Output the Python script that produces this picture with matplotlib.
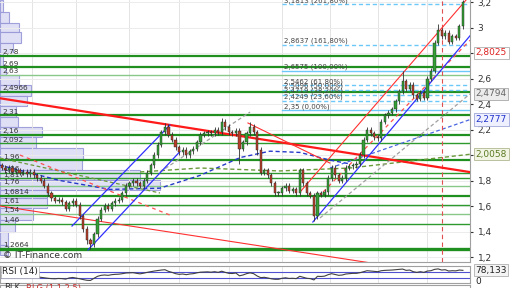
import numpy as np
import matplotlib
matplotlib.use("Agg")
import matplotlib.pyplot as plt

# --- price data (one candle per session) ---
closes = [
    1.90, 1.88, 1.90, 1.87, 1.88, 1.86, 1.87, 1.85, 1.87, 1.84,
    1.82, 1.80, 1.76, 1.70, 1.66, 1.64, 1.65, 1.63, 1.58, 1.62,
    1.64, 1.61, 1.52, 1.42, 1.33, 1.30, 1.38, 1.50, 1.57, 1.60,
    1.58, 1.62, 1.64, 1.65, 1.70, 1.76, 1.78, 1.80, 1.78, 1.76,
    1.80, 1.86, 1.92, 2.00, 2.08, 2.18, 2.22, 2.16, 2.12, 2.06,
    2.02, 2.04, 2.00, 2.03, 2.05, 2.10, 2.16, 2.17, 2.18, 2.17,
    2.20, 2.18, 2.26, 2.22, 2.18, 2.17, 2.19, 2.05, 2.10, 2.17,
    2.22, 2.18, 2.04, 1.86, 1.88, 1.84, 1.78, 1.70, 1.70, 1.74,
    1.76, 1.72, 1.73, 1.70, 1.88, 1.78, 1.70, 1.68, 1.52, 1.70,
    1.69, 1.71, 1.82, 1.90, 1.84, 1.80, 1.82, 1.90, 1.91, 1.92,
    1.93, 2.00, 2.12, 2.20, 2.17, 2.14, 2.13, 2.26, 2.31, 2.33,
    2.36, 2.42, 2.50, 2.58, 2.52, 2.55, 2.47, 2.44, 2.49, 2.45,
    2.60, 2.66, 2.88, 2.98, 2.93, 2.96, 2.89, 2.93, 2.92, 3.01,
    3.20,
]
first_open = 1.92
high_spikes = {46: 2.25, 62: 2.29, 70: 2.26, 113: 2.66, 123: 3.03, 130: 3.215}
low_spikes = {24: 1.30, 25: 1.2664, 67: 1.93, 72: 2.00, 88: 1.48}

rsi = [
    45, 44, 46, 42, 44, 42, 43, 40, 43, 40,
    38, 36, 33, 30, 28, 27, 29, 28, 25, 32,
    35, 31, 27, 22, 18, 17, 30, 42, 48, 50,
    48, 52, 54, 55, 58, 62, 63, 64, 60, 57,
    61, 66, 70, 74, 77, 80, 82, 72, 66, 58,
    54, 56, 52, 56, 58, 63, 67, 68, 69, 67,
    70, 66, 73, 66, 60, 59, 62, 45, 50, 58,
    63, 58, 44, 34, 36, 32, 27, 24, 24, 30,
    33, 29, 30, 28, 42, 36, 30, 28, 20, 42,
    41, 43, 52, 58, 53, 48, 50, 56, 58, 60,
    60, 64, 70, 76, 74, 72, 70, 76, 78, 79,
    80, 82, 84, 86, 78, 80, 70, 66, 70, 66,
    74, 76, 84, 87, 80, 82, 74, 76, 75, 80,
    78.133,
]

# support / resistance levels (left labels)
levels = [2.78, 2.69, 2.63, 2.4966, 2.31, 2.16, 2.092, 1.96, 1.86, 1.817,
          1.76, 1.6814, 1.61, 1.54, 1.46, 1.2664]
level_labels = ['2,78', '2,69', '2,63', '2,4966', '2,31', '2,16', '2,092', '1,96',
                '1,86', '1,817', '1,76', '1,6814', '1,61', '1,54', '1,46', '1,2664']
level_kind = ['thick', 'thick', 'light', 'thick', 'thick', 'thick', 'mid', 'thick',
              'mid', 'mid', 'light', 'thick', 'mid', 'light', 'mid', 'heavy']

# volume-by-price profile
vp_edges = [3.216, 3.122, 3.035, 2.965, 2.878, 2.80, 2.698, 2.627, 2.549, 2.463,
            2.384, 2.298, 2.220, 2.141, 2.055, 1.961, 1.882, 1.804, 1.725, 1.663,
            1.584, 1.490, 1.396, 1.294, 1.216]
vp_volume = [3, 9, 19, 21, 13, 3, 6, 19, 31, 27, 16, 18, 42, 36, 83, 82, 140, 160,
             47, 47, 33, 15, 8, 8]

# fibonacci projection
fib_values = [3.1813, 2.8637, 2.6575, 2.5462, 2.5096, 2.4719, 2.4249, 2.35]
fib_labels = ['3,1813 (261,80%)', '2,8637 (161,80%)', '2,6575 (100,00%)',
              '2,5462 (61,80%)', '2,5096 (50,00%)', '2,4719 (38,20%)',
              '2,4249 (23,60%)', '2,35 (0,00%)']
fib_solid = [False, False, True, False, False, False, False, True]
fib_start = 79

# drawn trend lines (candle index, price)
red_main = ([-0.5, 132], [2.445, 1.866])
red_low = ([-0.5, 106], [1.60, 1.145])
red_peak = ([69.4, 92.5], [2.251, 1.937])
red_channel = ([84.1, 130.9], [1.71, 3.216])
blue_right = ([87.7, 132], [1.4745, 2.935])
blue_left_up = ([19.8, 47.4], [1.443, 2.235])
blue_left_low = ([24.3, 50.2], [1.255, 2.026])

blue_ma = ([-0.5, 16.4, 30.5, 44.6, 55.9, 67.2, 75.6, 84.1, 92.5, 98.2],
           [1.92, 1.80, 1.73, 1.74, 1.84, 1.98, 2.03, 2.02, 1.96, 1.93])
blue_ma2 = ([92.5, 132], [1.898, 2.2777])
green_dash = ([-0.5, 44.6], [1.976, 1.702])
green_ma = ([39, 55.9, 78.4, 98.2, 117.9, 132],
            [1.867, 1.898, 1.875, 1.898, 1.961, 2.0058])
gray_right = ([89.7, 132], [1.506, 2.4794])
gray_left = ([44.6, 70], [1.867, 2.337])
red_dash_left = ([5.1, 47.4], [2.0, 1.529])
red_dash_right = ([90.6, 132], [1.71, 2.90])
marker_day = 124.1

month_idx = [8.5, 21, 36, 50, 64, 79, 92.5, 106, 120]
price_ticks = [1.2, 1.4, 1.6, 1.8, 2.0, 2.2, 2.4, 2.6, 2.8, 3.0, 3.2]
hidden_ticks = [2.0, 2.8]   # covered by the value boxes

# right-side value boxes: value, text colour, face, edge
boxes = [(2.8025, '#dd2222', '#ffffff', '#b0b0b0'),
         (2.4794, '#666666', '#ececec', '#a8a8a8'),
         (2.2777, '#2233cc', '#eef0ff', '#a0a8d8'),
         (2.0058, '#5a7a22', '#f2f5e4', '#b0b890')]

W = 470 / 512
main_rect = [0, 26 / 288, W, 262 / 288]
ylo, yhi = 1.1608, 3.2157

fig = plt.figure(figsize=(5.12, 2.88), dpi=100)
fig.patch.set_facecolor('white')

# volume profile lives underneath the price axes
vol_ax = fig.add_axes(main_rect)
edges = np.array(vp_edges)
vol_ax.barh((edges[:-1] + edges[1:]) / 2, vp_volume, height=edges[:-1] - edges[1:],
            left=0, color='#dcdcf6', edgecolor='#9898d8', lw=0.8, alpha=0.9)
vol_ax.set_xlim(0, 470)
vol_ax.set_ylim(ylo, yhi)
vol_ax.axis('off')

ax = fig.add_axes(main_rect)
ax.patch.set_visible(False)
ax.set_xlim(-0.5, 132)
ax.set_ylim(ylo, yhi)

for m in month_idx:
    ax.axvline(m, color='#e4e4e4', lw=0.7, zorder=0)
for p in price_ticks:
    ax.axhline(p, color='#ececec', lw=0.7, zorder=0)

styles = {'heavy': ('#1f8f1f', 2.4), 'thick': ('#1f8f1f', 1.6),
          'mid': ('#2e9a2e', 1.0), 'light': ('#88c888', 1.0)}
ylab = ax.get_yaxis_transform()
for lv, lab, kind in zip(levels, level_labels, level_kind):
    c, w = styles[kind]
    ax.axhline(lv, color=c, lw=w, zorder=2)
    ax.text(0.006, lv + 0.004, lab, transform=ylab, fontsize=5.3, color='#333333',
            va='bottom', ha='left', zorder=6)

for v, lab, solid in zip(fib_values, fib_labels, fib_solid):
    ax.plot([fib_start, 132], [v, v], color='#6cc8f8', lw=1.0,
            ls='-' if solid else (0, (3, 2)), zorder=2)
    ax.text(fib_start + 0.5, v + 0.006, lab, fontsize=5, color='#444444',
            va='bottom', ha='left', zorder=6, clip_on=True)

# dashed averages and channel guides
ax.plot(*blue_ma, color='#2638c8', lw=1.0, ls=(0, (3, 2)), zorder=3)
ax.plot(*blue_ma2, color='#4a66e0', lw=0.9, ls=(0, (3, 2)), zorder=3)
ax.plot(*green_dash, color='#6a9a3a', lw=0.9, ls=(0, (3, 2)), zorder=3)
ax.plot(*green_ma, color='#6a9a3a', lw=1.0, ls=(0, (3, 2)), zorder=3)
ax.plot(*gray_right, color='#a0a0a0', lw=0.9, ls=(0, (3, 2)), zorder=3)
ax.plot(*gray_left, color='#a0a0a0', lw=0.9, ls=(0, (3, 2)), zorder=3)
ax.plot(*red_dash_left, color='#ff5050', lw=0.9, ls=(0, (3, 3)), zorder=3)
ax.plot(*red_dash_right, color='#ff5050', lw=0.9, ls=(0, (3, 3)), zorder=3)
ax.axvline(marker_day, color='#e05050', lw=0.8, ls=(0, (4, 3)), zorder=3)

ax.plot(*red_main, color='#ff1a1a', lw=1.6, zorder=4)
ax.plot(*red_low, color='#ff3030', lw=0.8, zorder=4)
ax.plot(*red_peak, color='#ff3030', lw=0.8, zorder=4)
ax.plot(*red_channel, color='#ff3030', lw=0.8, zorder=4)
ax.plot(*blue_right, color='#3030ff', lw=0.9, zorder=4)
ax.plot(*blue_left_up, color='#3030ff', lw=0.9, zorder=4)
ax.plot(*blue_left_low, color='#3030ff', lw=0.9, zorder=4)

# candles
idx = np.arange(len(closes))
cl = np.array(closes)
op = np.array([first_open] + closes[:-1])
hi = np.array([high_spikes.get(i, max(o, c) + 0.02) for i, (o, c) in enumerate(zip(op, cl))])
lo = np.array([low_spikes.get(i, min(o, c) - 0.02) for i, (o, c) in enumerate(zip(op, cl))])
up = cl >= op
ax.vlines(idx, lo, hi, color='#303030', lw=0.6, zorder=5)
body = np.maximum(np.abs(cl - op), 0.008)
ax.bar(idx, body, bottom=np.minimum(op, cl), width=0.62,
       color=np.where(up, '#35a035', '#b8402a'), edgecolor='#202020', lw=0.3, zorder=6)

ax.text(0.006, 0.008, '\u00a9 IT-Finance.com', transform=ax.transAxes, fontsize=6.5,
        color='#333333', va='bottom', ha='left', zorder=7)

ax.set_xticks([])
ax.yaxis.tick_right()
ax.set_yticks(price_ticks)
ax.set_yticklabels(['' if p in hidden_ticks else ('%g' % p).replace('.', ',')
                    for p in price_ticks])
ax.tick_params(axis='y', labelsize=6.5, length=2.5, pad=3, colors='#333333')
for side in ['top', 'left']:
    ax.spines[side].set_visible(False)
for side in ['right', 'bottom']:
    ax.spines[side].set_color('#a0a0a0')
    ax.spines[side].set_linewidth(0.8)

for v, tc, fc, ec in boxes:
    ax.text(1.012, v, ('%.4f' % v).replace('.', ','), transform=ylab, fontsize=6.5,
            color=tc, va='center', ha='left', zorder=8, clip_on=False,
            bbox=dict(boxstyle='square,pad=0.18', fc=fc, ec=ec, lw=0.6))

# RSI panel
rax = fig.add_axes([0, 5 / 288, W, 17 / 288])
rax.set_xlim(-0.5, 132)
rax.set_ylim(1.5, 104.5)
for m in month_idx:
    rax.axvline(m, color='#e4e4e4', lw=0.7, zorder=0)
rax.axhline(70, color='#5050d0', lw=0.8)
rax.axhline(30, color='#5050d0', lw=0.8)
rax.plot(idx, rsi, color='#404040', lw=0.8)
rax.set_xticks([])
rax.set_yticks([])
for s in rax.spines.values():
    s.set_color('#a0a0a0')
    s.set_linewidth(0.8)
rax.text(0.004, 0.93, 'RSI (14)', transform=rax.transAxes, fontsize=6.5, color='#222222',
         va='top', ha='left', bbox=dict(boxstyle='square,pad=0.15', fc='white', ec='#b0b0b0', lw=0.5))
rax.text(1.012, rsi[-1], '78,133', transform=rax.get_yaxis_transform(), fontsize=6.5,
         color='#222222', va='center', ha='left', clip_on=False,
         bbox=dict(boxstyle='square,pad=0.15', fc='#f4f4f4', ec='#a0a0a0', lw=0.5))
rax.text(1.012, 12, '0', transform=rax.get_yaxis_transform(), fontsize=6.5,
         color='#222222', va='center', ha='left', clip_on=False)

# next indicator panel, only its top edge is visible
bax = fig.add_axes([0, -0.1, W, 0.1 + 3 / 288])
bax.set_xticks([])
bax.set_yticks([])
for s in bax.spines.values():
    s.set_color('#a0a0a0')
    s.set_linewidth(0.8)
fig.text(0.008, 0.0, 'BLK', fontsize=6, color='#333333', va='center', ha='left')
fig.text(0.05, 0.0, 'BLG (1,1,2,5)', fontsize=6, color='#cc3333', va='center', ha='left')

fig.savefig('out.png', dpi=100)
